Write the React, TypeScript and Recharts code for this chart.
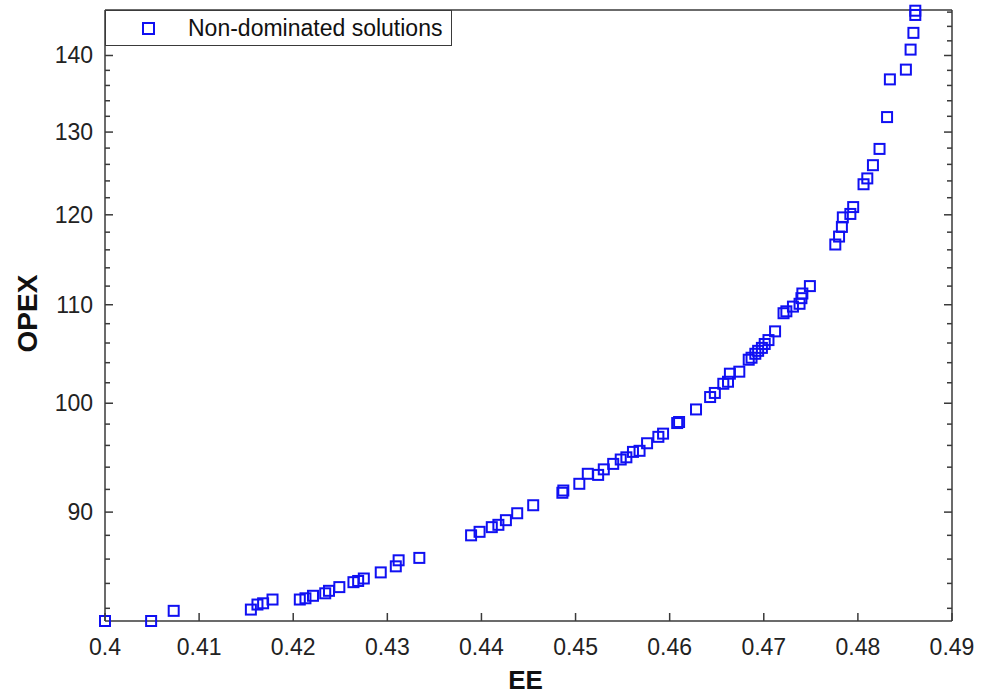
import { ScatterChart, Scatter, XAxis, YAxis, Legend, Label } from "recharts";

// EE / OPEX pairs
const EE = [
  0.4, 0.4049, 0.4073, 0.4155, 0.4162, 0.4168, 0.4178, 0.4207, 0.4213, 0.4221,
  0.4234, 0.4238, 0.4249, 0.4264, 0.4269, 0.4275, 0.4293, 0.4309, 0.4312, 0.4334,
  0.4389, 0.4398, 0.4411, 0.4418, 0.4426, 0.4438, 0.4455, 0.4486, 0.4487, 0.4504,
  0.4513, 0.4524, 0.453, 0.454, 0.4548, 0.4554, 0.4561, 0.4568, 0.4576, 0.4588,
  0.4593, 0.4608, 0.461, 0.4628, 0.4643, 0.4648, 0.4657, 0.4662, 0.4664, 0.4674,
  0.4684, 0.4687, 0.4691, 0.4694, 0.4698, 0.4701, 0.4705, 0.4712, 0.4721, 0.4724,
  0.4731, 0.4738, 0.474, 0.4741, 0.4749, 0.4776, 0.478, 0.4783, 0.4784, 0.4792,
  0.4795, 0.4806, 0.481, 0.4816, 0.4823, 0.4831, 0.4834, 0.4851, 0.4856, 0.4859,
  0.4861, 0.4861,
];
const OPEX = [
  81.0, 81.0, 81.8, 81.9, 82.3, 82.4, 82.7, 82.7, 82.8, 83.0,
  83.2, 83.4, 83.7, 84.1, 84.2, 84.4, 84.9, 85.4, 85.9, 86.1,
  88.0, 88.3, 88.7, 88.9, 89.3, 89.9, 90.6, 91.7, 91.9, 92.5,
  93.4, 93.3, 93.8, 94.3, 94.7, 94.9, 95.4, 95.5, 96.2, 96.8,
  97.1, 98.1, 98.2, 99.4, 100.6, 101.0, 101.9, 102.1, 102.9, 103.1,
  104.3, 104.5, 104.9, 105.2, 105.5, 105.9, 106.3, 107.2, 109.1, 109.3,
  109.8, 110.1, 110.7, 111.2, 112.0, 116.6, 117.5, 118.6, 119.7, 120.1,
  120.9, 123.6, 124.3, 125.9, 127.9, 131.9, 136.8, 138.1, 140.8, 143.1,
  145.6, 146.2,
];

const X_TICKS = [0.4, 0.41, 0.42, 0.43, 0.44, 0.45, 0.46, 0.47, 0.48, 0.49];
const Y_MAJOR = [90, 100, 110, 120, 130, 140];
const Y_TICKS = [
  82, 84, 86, 88, 90, 92, 94, 96, 98, 100, 102, 104, 106, 108, 110, 112, 114,
  116, 118, 120, 122, 124, 126, 128, 130, 132, 134, 136, 138, 140, 142, 144, 146,
];

const points = EE.map((ee, i) => ({ ee, opex: OPEX[i] }));

const FONT = '"Liberation Sans", Arial, sans-serif';
const AXIS = "#3a3a3a";
const TEXT = "#222";
const BLUE = "#1010f2";
const X_DOMAIN = [0.4, 0.49];
const Y_DOMAIN = [81, 146.3];

const fmtX = (v: number) => String(Number(v.toFixed(2)));
const tickLen = (v: number) => (Y_MAJOR.includes(v) ? 8 : 5);

function BottomTick({ x, y, payload }: any) {
  return (
    <g>
      <line x1={x} x2={x} y1={y} y2={y - 8} stroke={AXIS} strokeWidth={1.5} />
      <text x={x} y={y + 34} textAnchor="middle" fontSize={23} fontFamily={FONT} fill={TEXT}>
        {fmtX(payload.value)}
      </text>
    </g>
  );
}

function TopTick({ x, y }: any) {
  return <line x1={x} x2={x} y1={y} y2={y + 8} stroke={AXIS} strokeWidth={1.5} />;
}

function LeftTick({ x, y, payload }: any) {
  const v = payload.value;
  return (
    <g>
      <line x1={x} x2={x + tickLen(v)} y1={y} y2={y} stroke={AXIS} strokeWidth={1.5} />
      {Y_MAJOR.includes(v) && (
        <text x={x - 12} y={y + 8} textAnchor="end" fontSize={23} fontFamily={FONT} fill={TEXT}>
          {v}
        </text>
      )}
    </g>
  );
}

function RightTick({ x, y, payload }: any) {
  return (
    <line x1={x} x2={x - tickLen(payload.value)} y1={y} y2={y} stroke={AXIS} strokeWidth={1.5} />
  );
}

function SquareMark({ cx, cy }: any) {
  return (
    <rect x={cx - 5} y={cy - 5} width={10} height={10} fill="none" stroke={BLUE} strokeWidth={2} />
  );
}

function LegendBox({ payload }: any) {
  const name = payload && payload[0] ? payload[0].value : "Non-dominated solutions";
  return (
    <div
      style={{
        boxSizing: "border-box",
        width: 347,
        height: 36,
        border: `1.5px solid ${AXIS}`,
        background: "#fff",
        position: "relative",
        fontFamily: FONT,
        fontSize: 23,
        color: "#111",
      }}
    >
      <span
        style={{
          position: "absolute",
          left: 36,
          top: 11,
          width: 9,
          height: 9,
          border: `2px solid ${BLUE}`,
        }}
      />
      <span style={{ position: "absolute", left: 82, top: 4, lineHeight: "26px", whiteSpace: "nowrap" }}>
        {name}
      </span>
    </div>
  );
}

export default function App() {
  return (
    <div style={{ position: "absolute", left: 0, top: 0, width: 988, height: 696, background: "#fff" }}>
      <ScatterChart width={988} height={696} margin={{ top: 0, right: 0, bottom: 0, left: 0 }}>
        <XAxis
          xAxisId="b"
          type="number"
          dataKey="ee"
          domain={X_DOMAIN}
          ticks={X_TICKS}
          interval={0}
          height={75}
          tickLine={false}
          tickSize={0}
          tickMargin={0}
          tick={<BottomTick />}
          axisLine={{ stroke: AXIS, strokeWidth: 1.5 }}
        >
          <Label
            content={(p: any) => {
              const vb = p.viewBox;
              return (
                <text x={vb.x + vb.width / 2 - 3} y={vb.y + 68} textAnchor="middle" fontSize={26} fontWeight="bold" fontFamily={FONT} fill="#111">
                  EE
                </text>
              );
            }}
          />
        </XAxis>
        <XAxis
          xAxisId="t"
          orientation="top"
          type="number"
          domain={X_DOMAIN}
          allowDataOverflow
          ticks={X_TICKS}
          interval={0}
          height={10}
          tickLine={false}
          tickSize={0}
          tickMargin={0}
          tick={<TopTick />}
          axisLine={{ stroke: AXIS, strokeWidth: 1.5 }}
        />
        <YAxis
          yAxisId="l"
          type="number"
          dataKey="opex"
          scale="log"
          domain={Y_DOMAIN}
          ticks={Y_TICKS}
          interval={0}
          width={105}
          tickLine={false}
          tickSize={0}
          tickMargin={0}
          tick={<LeftTick />}
          axisLine={{ stroke: AXIS, strokeWidth: 1.5 }}
        >
          <Label
            content={(p: any) => {
              const vb = p.viewBox;
              const lx = vb.x + 37;
              const ly = vb.y + vb.height / 2 - 2;
              return (
                <text x={lx} y={ly} transform={`rotate(-90 ${lx} ${ly})`} textAnchor="middle" fontSize={28} fontWeight="bold" fontFamily={FONT} fill="#111">
                  OPEX
                </text>
              );
            }}
          />
        </YAxis>
        <YAxis
          yAxisId="r"
          orientation="right"
          type="number"
          scale="log"
          domain={Y_DOMAIN}
          allowDataOverflow
          ticks={Y_TICKS}
          interval={0}
          width={36}
          tickLine={false}
          tickSize={0}
          tickMargin={0}
          tick={<RightTick />}
          axisLine={{ stroke: AXIS, strokeWidth: 1.5 }}
        />
        <Legend
          layout="vertical"
          align="center"
          verticalAlign="middle"
          width={347}
          height={36}
          wrapperStyle={{ left: 105, top: 10 }}
          content={<LegendBox />}
        />
        <Scatter
          name="Non-dominated solutions"
          data={points}
          xAxisId="b"
          yAxisId="l"
          shape={<SquareMark />}
          isAnimationActive={false}
        />
      </ScatterChart>
    </div>
  );
}
